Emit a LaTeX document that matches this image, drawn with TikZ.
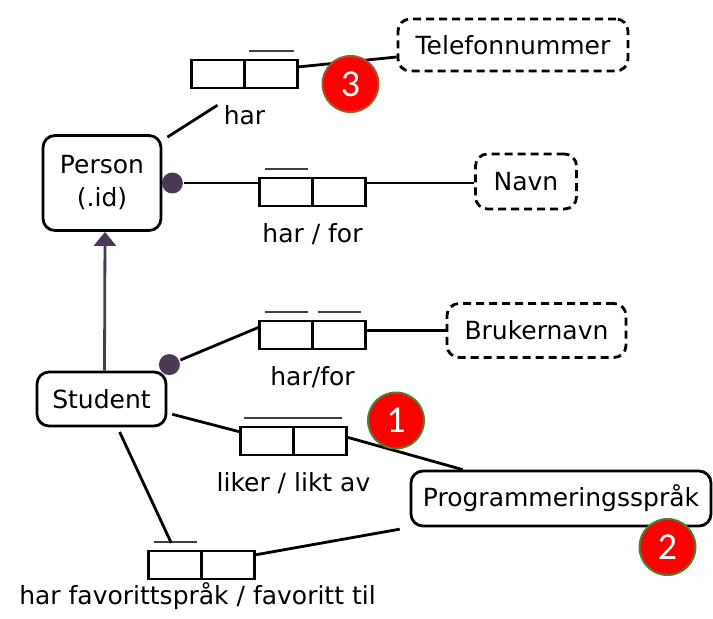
\documentclass[tikz,border=0pt]{standalone}
\usepackage{fontspec}
\setmainfont{DejaVu Sans}
\newfontfamily\badgefont{Carlito}
\usetikzlibrary{arrows.meta,positioning}

\definecolor{ormpurple}{HTML}{4B3A55}
\definecolor{badgered}{HTML}{FF0000}
\definecolor{rimgreen}{HTML}{4E7F2E}
\definecolor{rimbrown}{HTML}{A5562A}

\begin{document}
\begin{tikzpicture}[x=1pt,y=-1pt,line width=2.8pt,
  every node/.style={font=\fontsize{25}{31}\selectfont},
  entity/.style={draw,rounded corners=12pt,inner sep=0pt,align=center},
  valuetype/.style={entity,dash pattern=on 8pt off 5pt},
  role/.style={draw,minimum width=53pt,minimum height=28pt,inner sep=0pt,outer sep=0pt},
  ubar/.style={line width=1.6pt,black!75},
  lbl/.style={inner sep=1pt,text height=19pt,text depth=5pt},
  mand/.style={circle,fill=ormpurple,minimum size=21pt,inner sep=0pt},
  badge/.style={circle,fill=badgered,draw=rimgreen,line width=2pt,minimum size=56pt,
    inner sep=0pt,text=white,font=\badgefont\fontsize{38}{38}\selectfont}]
\useasboundingbox (0,0) rectangle (713,619);

% object and value types
\node[entity,minimum width=118pt,minimum height=95pt] (person) at (102,183) {Person\\[2pt](.id)};
\node[entity,minimum width=129pt,minimum height=54pt] (student) at (101.5,399) {Student};
\node[valuetype,minimum width=230pt,minimum height=52pt] (tlf) at (513,45) {Telefonnummer};
\node[valuetype,minimum width=101pt,minimum height=55pt] (navn) at (526,181.5) {Navn};
\node[valuetype,minimum width=179pt,minimum height=54pt] (bruker) at (536.5,330.5) {Brukernavn};
\node[entity,minimum width=300pt,minimum height=55pt] (sprak) at (561,498.5) {Programmeringsspråk};

% fact types
\node[role] (h1) at (218,74) {};  \node[role,right=0pt of h1] (h2) {};
\node[role] (n1) at (286,192) {}; \node[role,right=0pt of n1] (n2) {};
\node[role] (b1) at (286,335) {}; \node[role,right=0pt of b1] (b2) {};
\node[role] (l1) at (267,441) {}; \node[role,right=0pt of l1] (l2) {};
\node[role] (f1) at (175,565) {}; \node[role,right=0pt of f1] (f2) {};

% uniqueness bars
\draw[ubar] ([shift={(4pt,9pt)}]h2.north west) -- ([shift={(-4pt,9pt)}]h2.north east);
\foreach \r in {n1,b1,b2,f1}
  \draw[ubar] ([shift={(5pt,9pt)}]\r.north west) -- ([shift={(-5pt,9pt)}]\r.north east);
\draw[ubar] ([shift={(3pt,9pt)}]l1.north west) -- ([shift={(-5pt,9pt)}]l2.north east);

% mandatory dots
\node[mand] (mp) at ([xshift=10pt]person.east) {};
\node[mand] (ms) at ([shift={(2pt,6pt)}]student.north east) {};

% connectors
\draw[shorten >=32pt] ([shift={(5pt,-3pt)}]person.north east) -- (h1.south east);
\draw ([yshift=7pt]h2.east) -- ([yshift=-12pt]tlf.west);
\draw (mp) -- (mp -| n1.west);
\draw (n2.east |- mp) -- (navn.west |- mp);
\draw (ms) -- ([yshift=8pt]b1.west);
\draw (bruker.west -| b2.east) -- (bruker.west);
\draw[shorten <=5pt] (student.-12) -- ([yshift=9pt]l1.west);
\draw ([yshift=4pt]l2.east) -- ([xshift=53pt]sprak.north west);
\draw[shorten <=5pt,shorten >=9pt] ([xshift=16pt]student.south) -- (f1.north);
\draw[shorten >=10pt] ([yshift=10pt]f2.east) -- (sprak.south west);
\draw[ormpurple,-{Triangle[width=22pt,length=14pt]}] ([xshift=3pt]student.north) -- ([xshift=3pt]person.south);

% role labels
\node[lbl,below=15pt of h1.south east] (lh) {har};
\node[lbl,below=15pt of n1.south east] (ln) {har / for};
\node[lbl,below=15pt of b1.south east] (lb) {har/for};
\node[lbl,below=15pt of l1.south east] (ll) {liker / likt av};
\node[lbl,below=4pt of f1.south east,xshift=-4pt] (lf) {har favorittspråk / favoritt til};

% numbered markers
\node[badge,draw=rimbrown] (nr3) at (350.5,84) {3};
\node[badge] (nr1) at (396,420.5) {1};
\node[badge] (nr2) at (667.5,547) {2};
\end{tikzpicture}
\end{document}
